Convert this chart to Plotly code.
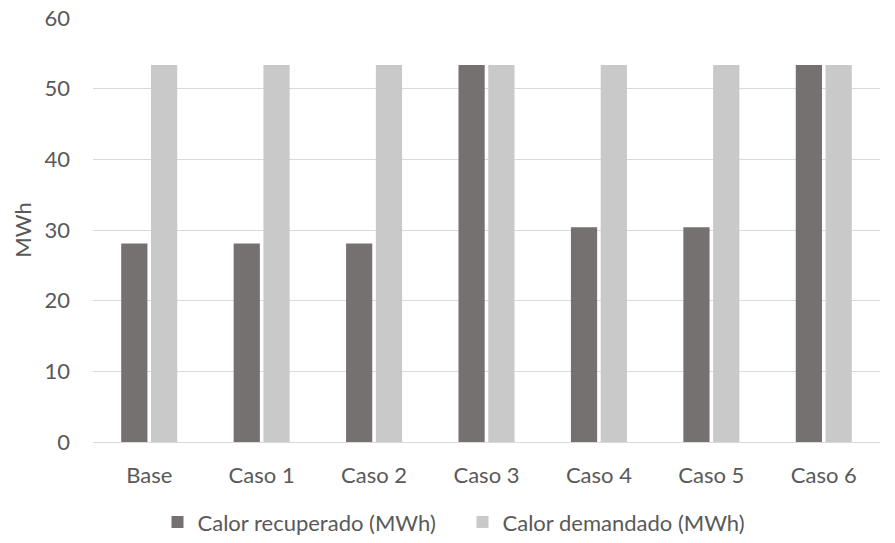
import plotly.graph_objects as go

categorias = ["Base", "Caso 1", "Caso 2", "Caso 3", "Caso 4", "Caso 5", "Caso 6"]
calor_recuperado = [28.1, 28.1, 28.1, 53.35, 30.4, 30.4, 53.35]
calor_demandado = [53.35, 53.35, 53.35, 53.35, 53.35, 53.35, 53.35]
y_ticks = [0, 10, 20, 30, 40, 50, 60]

FONT = "Lato"
TXT = "#595959"
FS = 22

fig = go.Figure()
fig.add_trace(go.Bar(x=categorias, y=calor_recuperado, name="Calor recuperado (MWh)",
                     marker=dict(color="#767171", line=dict(width=0))))
fig.add_trace(go.Bar(x=categorias, y=calor_demandado, name="Calor demandado (MWh)",
                     marker=dict(color="#C9C9C9", line=dict(width=0))))

fig.update_layout(
    width=895, height=543,
    margin=dict(l=93, r=15, t=18, b=101, autoexpand=False),
    paper_bgcolor="white", plot_bgcolor="white",
    barmode="group", bargap=0.47, bargroupgap=0.12,
    font=dict(family=FONT, size=FS, color=TXT),
    showlegend=True,
    legend=dict(orientation="h", x=0.4695, xanchor="center", y=-0.189, yanchor="middle",
                font=dict(family=FONT, size=FS, color=TXT), itemwidth=30,
                entrywidth=260, entrywidthmode="pixels",
                traceorder="normal"),
)
fig.update_yaxes(range=[0, 60], tickvals=y_ticks, showgrid=True, gridcolor="#D9D9D9",
                 gridwidth=1, zeroline=False, showline=False, ticks="",
                 ticklabelstandoff=22, automargin=False,
                 title=dict(text="MWh", font=dict(family=FONT, size=FS, color=TXT), standoff=6))
fig.update_xaxes(showline=True, linecolor="#D9D9D9", linewidth=1, ticks="",
                 ticklabelstandoff=14, showgrid=False, automargin=False)

fig.write_html("out.html")
